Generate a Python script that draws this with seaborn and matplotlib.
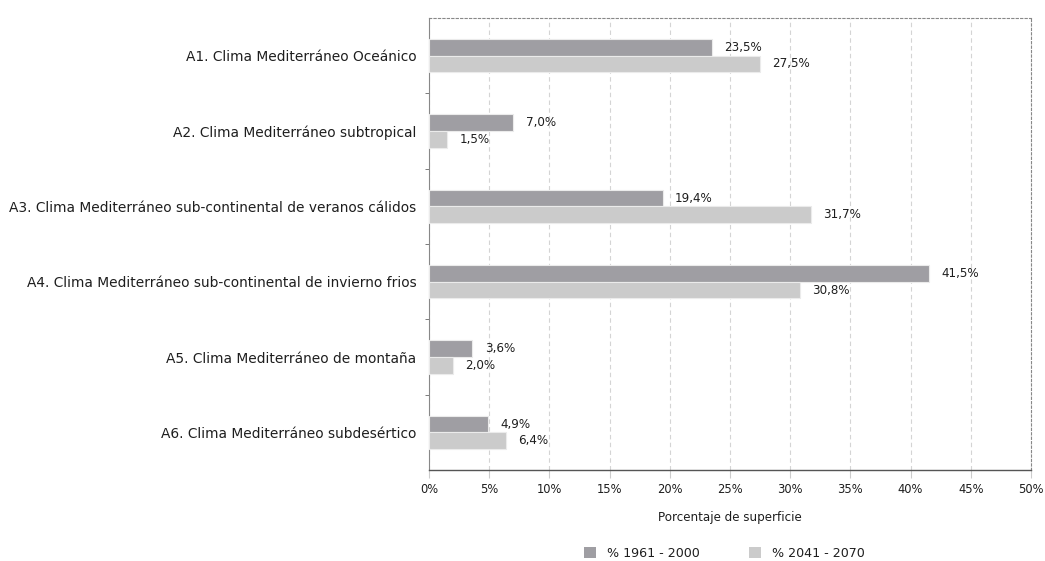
from matplotlib import pyplot as plt
from matplotlib.patches import Patch
import seaborn as sns
import pandas as pd
import numpy as np

categories = [
    'A1. Clima Mediterráneo Oceánico',
    'A2. Clima Mediterráneo subtropical',
    'A3. Clima Mediterráneo sub-continental de veranos cálidos',
    'A4. Clima Mediterráneo sub-continental de invierno frios',
    'A5. Clima Mediterráneo de montaña',
    'A6. Clima Mediterráneo subdesértico',
]
series = ['% 1961 - 2000', '% 2041 - 2070']
values_1961 = [23.5, 7.0, 19.4, 41.5, 3.6, 4.9]
values_2041 = [27.5, 1.5, 31.7, 30.8, 2.0, 6.4]
xticks = [0, 5, 10, 15, 20, 25, 30, 35, 40, 45, 50]

df = pd.DataFrame({
    'cat': categories * 2,
    'serie': [series[0]] * 6 + [series[1]] * 6,
    'val': values_1961 + values_2041,
})

sns.set_style('white')
plt.rcParams['font.family'] = ['DejaVu Sans']
text_col = '#1e1e1e'
palette = {series[0]: '#9f9ea3', series[1]: '#cbcbcb'}

fig = plt.figure(figsize=(10.45, 5.61), dpi=100)
ax = fig.add_axes([0.4105, 0.162, 0.5761, 0.806])

sns.barplot(data=df, y='cat', x='val', hue='serie', palette=palette, orient='h',
            width=0.44, saturation=1, edgecolor='#ebebeb', linewidth=0.8,
            legend=False, ax=ax, zorder=3)

for cont, vals in zip(ax.containers, [values_1961, values_2041]):
    ax.bar_label(cont, labels=[f'{v:.1f}%'.replace('.', ',') for v in vals],
                 padding=9, fontsize=8.6, color=text_col)

ax.set_xlim(0, 50)
ax.set_ylim(5.5, -0.5)
ax.set_xticks(xticks)
ax.set_xticklabels([f'{t}%' for t in xticks], fontsize=8.3, color=text_col)
ax.set_yticks(range(len(categories)))
ax.set_yticklabels(categories, fontsize=9.9, color=text_col)
ax.set_yticks(np.arange(0.5, 5.5, 1), minor=True)
ax.tick_params(axis='y', which='major', length=0, pad=9)
ax.tick_params(axis='y', which='minor', length=3, color='#666666', direction='out', left=True)
ax.tick_params(axis='x', length=6, color='#cccccc', direction='out', bottom=True, pad=3)

ax.grid(axis='x', linestyle=(0, (4, 3)), color='#d4d4d4', linewidth=0.8, zorder=0)
for side in ['top', 'right']:
    ax.spines[side].set_linestyle((0, (2, 2)))
    ax.spines[side].set_color('#888888')
    ax.spines[side].set_linewidth(0.8)
ax.spines['left'].set_color('#888888')
ax.spines['bottom'].set_color('#555555')
ax.spines['left'].set_linewidth(0.8)
ax.spines['bottom'].set_linewidth(1.0)

ax.set_ylabel('')
ax.set_xlabel('Porcentaje de superficie', fontsize=8.6, color=text_col, labelpad=11)

handles = [Patch(facecolor=palette[s], edgecolor='none') for s in series]
fig.legend(handles, series, loc='center', bbox_to_anchor=(0.693, 0.014), ncol=2,
           frameon=False, fontsize=9.1, handlelength=0.95, handleheight=0.95,
           columnspacing=3.9, handletextpad=0.85, labelcolor=text_col,
           borderpad=0, borderaxespad=0)

plt.savefig('out.png', dpi=100)
